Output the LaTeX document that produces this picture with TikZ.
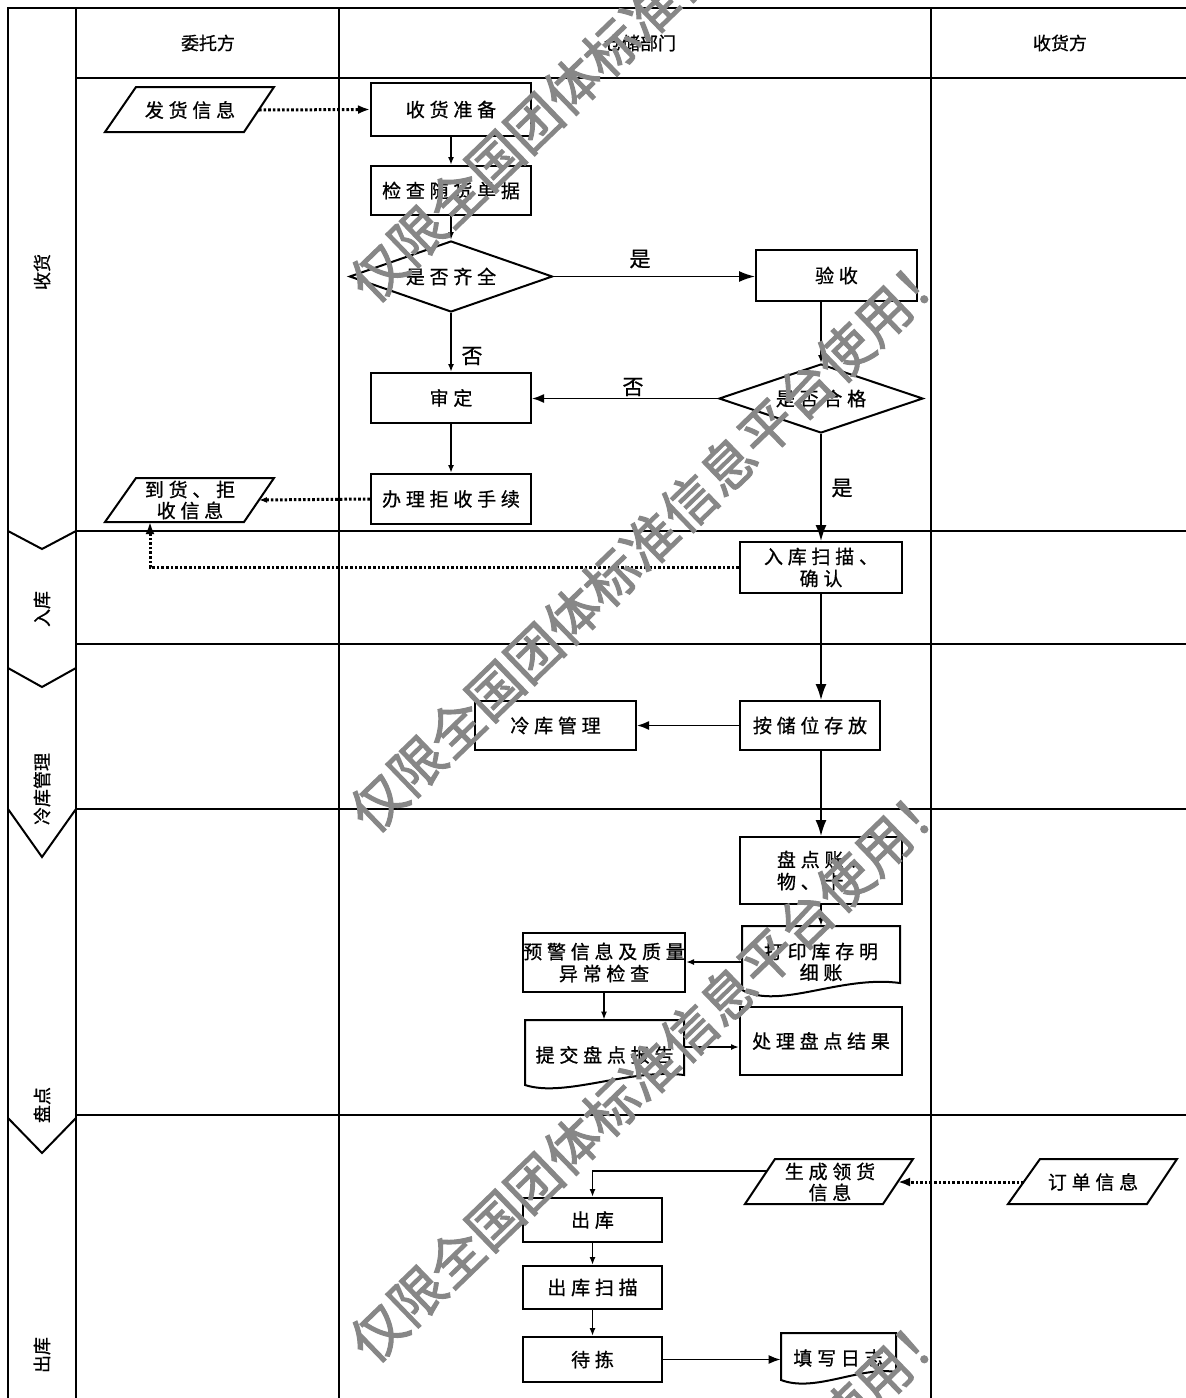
\documentclass[tikz,border=0pt]{standalone}
\usepackage{fontspec}
\setmainfont{Noto Sans CJK SC}
\newfontfamily\spcjk[LetterSpace=25,FakeBold=0.8]{Noto Sans CJK SC}
\newfontfamily\plcjk[FakeBold=0.8]{Noto Sans CJK SC}
\newfontfamily\wmcjk[FakeBold=2]{Noto Sans CJK SC}
\usetikzlibrary{arrows.meta,shapes.geometric,calc}
\newcommand\bxn[6]{\node[box,minimum width={(#4-#2)*0.5pt},minimum height={(#5-#3)*0.5pt}] (#1) at ({(#2+#4)/2},{(#3+#5)/2}) {#6};}
\begin{document}
\begin{tikzpicture}[x=0.5pt,y=-0.5pt,
  grid/.style={line width=1pt,line join=miter},
  shp/.style={draw,line width=1pt},
  box/.style={draw,line width=1pt,inner sep=0pt,align=center,font=\spcjk\fontsize{9.5}{11}\selectfont},
  txt/.style={inner sep=0pt,align=center,font=\spcjk\fontsize{9.5}{10.5}\selectfont},
  dia/.style={draw,diamond,line width=1pt,inner sep=0pt,aspect=2.86,font=\spcjk\fontsize{9.5}{11}\selectfont},
  hdr/.style={inner sep=0pt,font=\plcjk\fontsize{9}{11}\selectfont},
  phase/.style={inner sep=0pt,rotate=90,font=\plcjk\fontsize{9}{11}\selectfont},
  lbl/.style={inner sep=0pt,font=\plcjk\fontsize{10.5}{12}\selectfont},
  flow/.style={line width=0.8pt},
  dotl/.style={line width=1.5pt,dash pattern=on 1.3pt off 1pt},
  tipS/.style={-{Latex[length=4pt,width=3pt]}},
  tipM/.style={-{Latex[length=6pt,width=4.5pt]}},
  tipL/.style={-{Latex[length=8pt,width=5.5pt]}},
  wm/.style={inner sep=0pt,rotate=44,text=black!47,font=\wmcjk\fontsize{27}{27}\selectfont}
]
\useasboundingbox (0,0) rectangle (1186,1398);
% grid
\draw[grid] (8,1398) -- (8,8) -- (1186,8);
\draw[grid] (76,8) -- (76,1398);
\draw[grid] (339,8) -- (339,1398);
\draw[grid] (931,8) -- (931,1398);
\foreach \yy in {78,531,644,809,1115} \draw[grid] (76,\yy) -- (1186,\yy);
\draw[grid] (8,531) -- (42,549) -- (76,531);
\draw[grid] (8,668) -- (42,687) -- (76,668);
\draw[grid] (8,809) -- (42,857) -- (76,809);
\draw[grid] (8,1118) -- (42,1153) -- (76,1118);
% headers
\node[hdr] (h1) at (208,43) {委托方};
\node[hdr] (h2) at (640,43) {仓储部门};
\node[hdr] (h3) at (1060,43) {收货方};
% phases
\node[phase] (p1) at (42,272) {收货};
\node[phase] (p2) at (42,609) {入库};
\node[phase] (p3) at (42,789) {冷库管理};
\node[phase] (p4) at (42,1105) {盘点};
\node[phase] (p5) at (42,1355) {出库};
% boxes
\bxn{ss}{371}{83}{531}{136}{收货准备}
\bxn{jc}{371}{166}{531}{215}{检查随货单据}
\node[dia,minimum width=101.5pt,minimum height=35.5pt] (qq) at (451,276.5) {是否齐全};
\bxn{ys}{756}{250}{917}{301}{验收}
\node[dia,minimum width=102pt,minimum height=34.5pt] (hg) at (821,398.5) {是否合格};
\bxn{sd}{371}{373}{531}{423}{审定}
\bxn{bl}{371}{474}{531}{524}{办理拒收手续}
\bxn{rk}{740}{542}{902}{593}{入库扫描、\\确认}
\bxn{ac}{740}{701}{880}{750}{按储位存放}
\bxn{lk}{475}{701}{636}{750}{冷库管理}
\node[box,align=left,minimum width=81pt,minimum height=33.5pt,text width=44pt] (pd) at (821,870.5) {盘点账、\\物、卡};
\bxn{yj}{523}{933}{685}{992}{预警信息及质量\\异常检查}
\bxn{cl}{740}{1007}{902}{1075}{处理盘点结果}
\bxn{ck}{523}{1198}{662}{1242}{出库}
\bxn{cs}{523}{1266}{662}{1309}{出库扫描}
\bxn{dj}{523}{1337}{662}{1382}{待拣}
% documents
\draw[shp] (742,926) -- (900,926) -- (900,983) .. controls (840,975) and (780,1010) .. (742,990) -- cycle;
\node[txt,minimum width=79pt,minimum height=36pt] (dy) at (821,962) {打印库存明\\细账};
\draw[shp] (525,1020) -- (684,1020) -- (684,1075) .. controls (630,1068) and (565,1098) .. (525,1085) -- cycle;
\node[txt,minimum width=79.5pt,minimum height=35pt] (tj) at (604.5,1055) {提交盘点报告};
\draw[shp] (781,1333) -- (896,1333) -- (896,1372) .. controls (860,1366) and (815,1393) .. (781,1380) -- cycle;
\node[txt,minimum width=57.5pt,minimum height=25pt] (tx) at (838.5,1358) {填写日志};
% parallelograms
\draw[shp] (105,132) -- (136,87) -- (274,87) -- (244,132) -- cycle;
\node[txt] (fh) at (190,110) {发货信息};
\coordinate (fhR) at (259,110);
\draw[shp] (105,522) -- (136,478) -- (274,478) -- (244,522) -- cycle;
\node[txt] (dh) at (190,500) {到货、拒\\收信息};
\coordinate (dhR) at (259,500);
\coordinate (dhB) at (150,522);
\draw[shp] (745,1204) -- (775,1159) -- (913,1159) -- (883,1204) -- cycle;
\node[txt] (sc) at (830,1182) {生成领货\\信息};
\coordinate (scR) at (898,1182);
\coordinate (scL) at (767,1171);
\draw[shp] (1008,1204) -- (1040,1159) -- (1177,1159) -- (1147,1204) -- cycle;
\node[txt] (dd) at (1093,1182) {订单信息};
\coordinate (ddL) at (1024,1182);
% connectors
\draw[dotl,tipM] (fhR) -- (ss.west);
\draw[flow,tipS] (ss.south) -- (jc.north);
\draw[flow,tipS] (jc.south) -- (qq.north);
\draw[flow,tipL] (qq.east) -- (qq.east -| ys.west);
\node[lbl] (l1) at (640,259) {是};
\draw[flow,tipS] (qq.south) -- (sd.north);
\node[lbl] (l2) at (472,356) {否};
\draw[flow,tipS] (ys.south -| hg.north) -- (hg.north);
\draw[flow,tipM] (hg.west) -- (hg.west -| sd.east);
\node[lbl] (l3) at (633,387) {否};
\draw[flow,tipS] (sd.south) -- (bl.north);
\draw[dotl,tipS] (bl.west) -- (dhR);
\draw[flow,tipL] (hg.south) -- (hg.south |- rk.north);
\node[lbl] (l4) at (842,488) {是};
\draw[dotl,tipM] (rk.west) -| (dhB);
\draw[flow,tipL] (rk.south) -- (rk.south |- ac.north);
\draw[flow,tipM] (ac.west) -- (lk.east);
\draw[flow,tipL] (pd.north |- ac.south) -- (pd.north);
\draw[flow,tipS] (pd.south) -- (dy.north);
\draw[flow,tipS] (dy.west) -- (dy.west -| yj.east);
\draw[flow,tipS] (yj.south) -- (yj.south |- tj.north);
\coordinate (tjo) at (684,1047);
\draw[flow,tipS] (tjo) -- (tjo -| cl.west);
\draw[dotl,tipM] (ddL) -- (scR);
\draw[flow,tipS] (scL) -| (ck.north);
\draw[flow,tipS] (ck.south) -- (cs.north);
\draw[flow,tipS] (cs.south) -- (dj.north);
\draw[flow,tipM] (dj.east) -- (dj.east -| tx.west);
% watermark
\begin{scope}
\clip (0,0) rectangle (1186,1398);
\foreach \yy/\nm in {10/a,540/b,1070/c,1600/d}
  \node[wm] (wm\nm) at (650,\yy) {仅限全国团体标准信息平台使用！};
\end{scope}
\end{tikzpicture}
\end{document}
